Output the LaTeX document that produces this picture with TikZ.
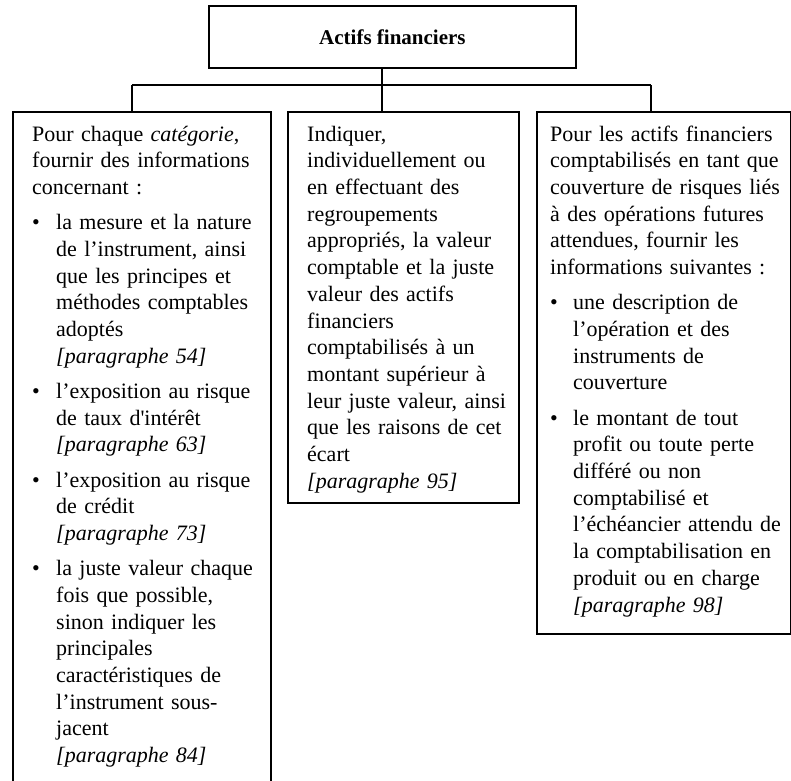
\documentclass[tikz,border=0pt]{standalone}
\usepackage{fontspec}
\setmainfont{Liberation Serif}
\newfontfamily\sqfont{Liberation Serif}
\newcommand{\bodyfnt}{\fontsize{22}{26.7}\selectfont\parindent0pt\relax}
\newcommand{\itm}[2][24pt]{\par\vspace{8.5pt}\hangindent#1\relax\hangafter0\relax\noindent\llap{\makebox[#1][l]{\textbullet}}#2\par}
\begin{document}
\begin{tikzpicture}[x=1pt,y=-1pt,
  box/.style={draw, line width=1.8pt, inner sep=0pt, anchor=north west},
  body/.style={anchor=north west, inner sep=0pt, text width=300pt, align=left,
    font=\bodyfnt},
  conn/.style={line width=1.8pt}]
\useasboundingbox (0,0) rectangle (791,780);
\clip (0,0) rectangle (791,780);
% boxes
\node[box, minimum width=367pt, minimum height=62pt,
  font=\fontsize{21}{25}\selectfont\bfseries] (top) at (208,5) {Actifs financiers};
\node[box, minimum width=258pt, minimum height=700pt] (left) at (12,111) {};
\node[box, minimum width=231pt, minimum height=391pt] (mid) at (287,111) {};
\node[box, minimum width=254pt, minimum height=522pt] (right) at (536,111) {};
% connectors
\coordinate (hl) at (132,85);
\coordinate (hm) at (382,85);
\coordinate (hr) at (651,85);
\draw[conn] (top.south -| hm) -- (hm);
\draw[conn] (hl) -- (hr);
\draw[conn] (hl) -- (hl |- left.north);
\draw[conn] (hm) -- (hm |- mid.north);
\draw[conn] (hr) -- (hr |- right.north);
% texts
\node[body] (lefttext) at (32,122.3) {\strut Pour chaque \textit{catégorie},\newline fournir des informations\newline concernant :
\itm{la mesure et la nature\newline de l’instrument, ainsi\newline que les principes et\newline méthodes comptables\newline adoptés\newline \textit{[paragraphe 54]}}
\itm{l’exposition au risque\newline de taux d{\sqfont'}intérêt\newline \textit{[paragraphe 63]}}
\itm{l’exposition au risque\newline de crédit\newline \textit{[paragraphe 73]}}
\itm{la juste valeur chaque\newline fois que possible,\newline sinon indiquer les\newline principales\newline caractéristiques de\newline l’instrument sous-\newline jacent\newline \textit{[paragraphe 84]}}};
\node[body] (midtext) at (307,122.3) {\strut Indiquer,\newline individuellement ou\newline en effectuant des\newline regroupements\newline appropriés, la valeur\newline comptable et la juste\newline valeur des actifs\newline financiers\newline comptabilisés à un\newline montant supérieur à\newline leur juste valeur, ainsi\newline que les raisons de cet\newline écart\newline \textit{[paragraphe 95]}};
\node[body] (righttext) at (550,122.3) {\strut Pour les actifs financiers\newline comptabilisés en tant que\newline couverture de risques liés\newline à des opérations futures\newline attendues, fournir les\newline informations suivantes :
\itm[23pt]{une description de\newline l’opération et des\newline instruments de\newline couverture}
\itm[23pt]{le montant de tout\newline profit ou toute perte\newline différé ou non\newline comptabilisé et\newline l’échéancier attendu de\newline la comptabilisation en\newline produit ou en charge\newline \textit{[paragraphe 98]}}};
\end{tikzpicture}
\end{document}
